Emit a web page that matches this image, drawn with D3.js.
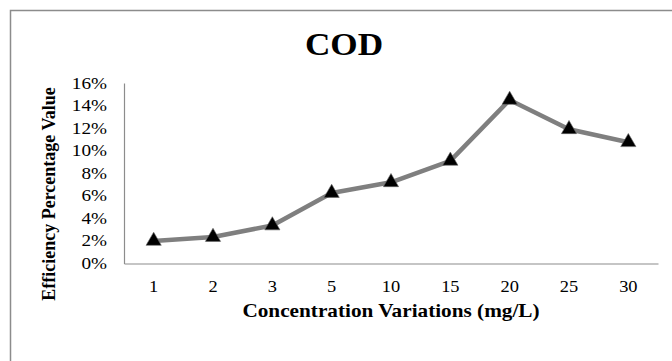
<!DOCTYPE html>
<html><head><meta charset="utf-8">
<script src="https://cdn.jsdelivr.net/npm/d3@7"></script>
<style>body{margin:0;background:#fff}svg{display:block}</style>
</head><body>
<svg id="c" width="672" height="361"></svg>
<script>
const categories = ["1","2","3","5","10","15","20","25","30"];
const values = [0.020, 0.0235, 0.0337, 0.0625, 0.072, 0.091, 0.145, 0.119, 0.1075];
const yTicks = [0,0.02,0.04,0.06,0.08,0.10,0.12,0.14,0.16];
const chartTitle = "COD";
const xTitle = "Concentration Variations (mg/L)";
const yTitle = "Efficiency Percentage Value";

(function(){
const svg = d3.select("#c");
const W=672,H=361;
svg.append("rect").attr("x",0).attr("y",0).attr("width",W).attr("height",H).attr("fill","#fff");
svg.append("rect").attr("x",10.5).attr("y",10.5).attr("width",700).attr("height",400)
  .attr("fill","none").attr("stroke","#8c8c8c").attr("stroke-width",1.5);

const pl=124, pr=658, pt=83, pb=263.5;
const x = d3.scaleBand().domain(categories).range([pl,pr]);
const y = d3.scaleLinear().domain([0,0.16]).range([pb,pt]);
const font = "'Liberation Serif','Times New Roman',serif";

function stext(g, xx, yy, txt, size, weight, anchor, sx){
  const gg = g.append("g").attr("transform",`translate(${xx},${yy}) scale(${sx},1)`);
  gg.append("text").attr("text-anchor",anchor).attr("font-family",font)
    .attr("font-size",size).attr("font-weight",weight).attr("fill","#000").text(txt);
}

const yAxis = d3.axisLeft(y).tickValues(yTicks).tickSize(0).tickFormat("");
svg.append("g").attr("transform",`translate(${pl},0)`).call(yAxis)
  .call(g=>g.select(".domain").attr("stroke","#8c8c8c").attr("stroke-width",1.2));
const xAxis = d3.axisBottom(x).tickSize(0).tickFormat("");
svg.append("g").attr("transform",`translate(0,${pb})`).call(xAxis)
  .call(g=>g.select(".domain").attr("stroke","#8c8c8c").attr("stroke-width",1.2));

const fmt = d3.format(".0%");
yTicks.forEach(t=>stext(svg,107,y(t)+5.5,fmt(t),16,"normal","end",1.2));
categories.forEach(c=>stext(svg,x(c)+x.bandwidth()/2,292,c,16,"normal","middle",1.15));

const line = d3.line().x((d,i)=>x(categories[i])+x.bandwidth()/2).y(d=>y(d));
svg.append("path").datum(values).attr("d",line).attr("fill","none")
  .attr("stroke","#7f7f7f").attr("stroke-width",4.5).attr("stroke-linejoin","round");
const tri = d3.symbol().type(d3.symbolTriangle).size(100);
svg.selectAll(".m").data(values).enter().append("path")
  .attr("transform",(d,i)=>`translate(${x(categories[i])+x.bandwidth()/2},${y(d)})`)
  .attr("d",tri).attr("fill","#000").attr("stroke","#666").attr("stroke-width",0.6);

stext(svg,344,55,chartTitle,32,"bold","middle",1.1);
stext(svg,391,317,xTitle,18,"bold","middle",1.18);
svg.append("g").attr("transform",`translate(55,194) rotate(-90) scale(1,1.1)`)
  .append("text").attr("text-anchor","middle").attr("font-family",font).attr("font-size",18)
  .attr("font-weight","bold").text(yTitle);
})();
</script>
</body></html>
